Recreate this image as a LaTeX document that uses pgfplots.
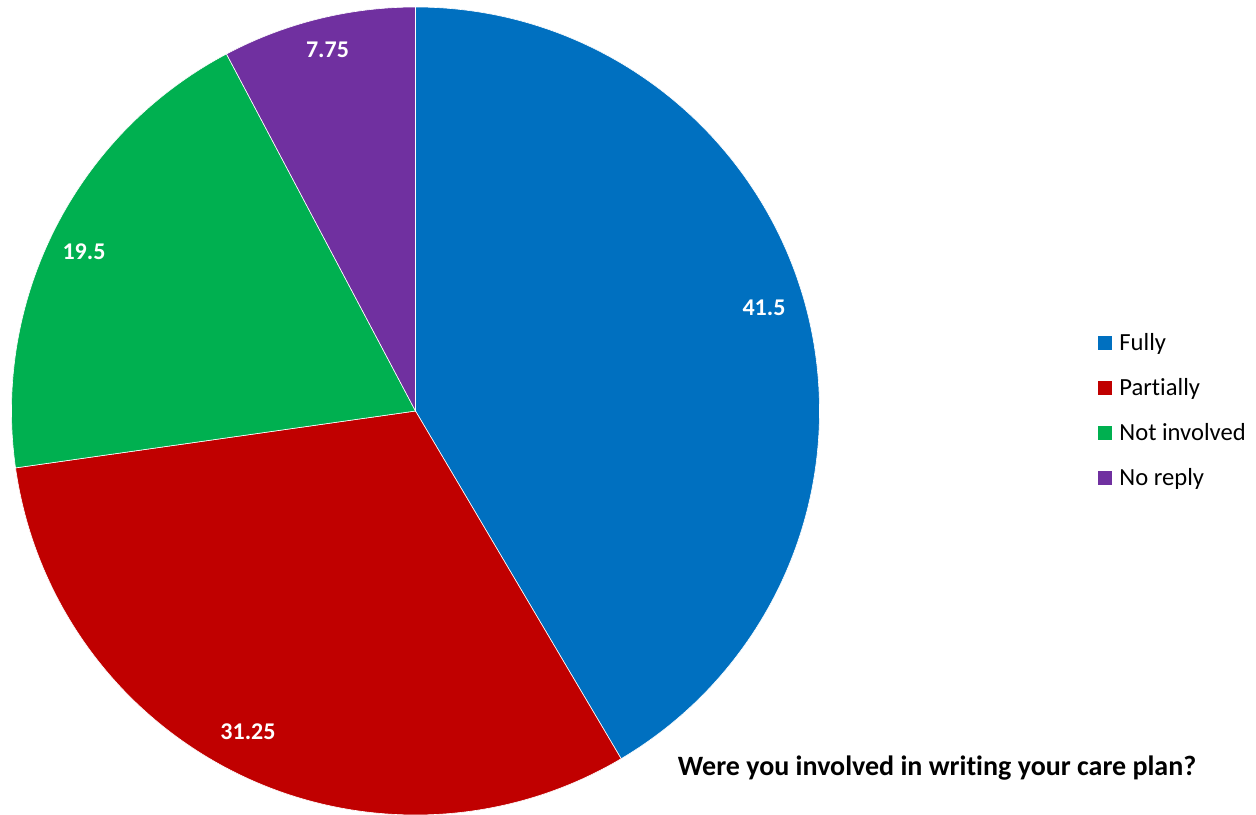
\documentclass[border=0pt]{standalone}
\usepackage{pgfplots}
\pgfplotsset{compat=1.18}
\usepackage{fontspec}
\setmainfont{Carlito}[Ligatures=CommonOff]
\definecolor{cFully}{HTML}{0070C0}
\definecolor{cPart}{HTML}{C00000}
\definecolor{cNot}{HTML}{00B050}
\definecolor{cNo}{HTML}{7030A0}
\begin{document}
\begin{tikzpicture}
\begin{axis}[width=628pt,height=407pt,scale only axis,
  xmin=0,xmax=1256,ymin=0,ymax=814,y dir=reverse,hide axis,clip=false]
\pgfplotsextra{
  \gdef\cum{0}
  \foreach \v/\c/\lx/\ly in {41.5/cFully/764/315, 31.25/cPart/248/739, 19.5/cNot/84/259, 7.75/cNo/327.5/57}{
    \pgfmathsetmacro\a{90-3.6*\cum}
    \pgfmathsetmacro\b{90-3.6*(\cum+\v)}
    \fill[\c, draw=white, line width=0.3pt] (axis cs:415.5,411) -- ++(\a:202pt) arc[start angle=\a, end angle=\b, radius=202pt] -- cycle;
    \node[text=white, anchor=base, inner sep=0pt, font=\bfseries\fontsize{12}{14}\selectfont] at (axis cs:\lx,\ly) {\v};
    \pgfmathsetmacro\n{\cum+\v}\xdef\cum{\n}
  }
  \foreach \c/\t [count=\i from 0] in {cFully/Fully, cPart/Partially, cNot/Not involved, cNo/No reply}{
    \pgfmathsetmacro\yb{350+45.2*\i}
    \fill[\c] (axis cs:1097.5,\yb-14.5) rectangle (axis cs:1111.5,\yb-0.5);
    \node[anchor=base west, inner sep=0pt, font=\fontsize{12.3}{14}\selectfont] at (axis cs:1119,\yb) {\t};
  }
  \node[anchor=base, inner sep=0pt, font=\bfseries\fontsize{14}{16}\selectfont] at (axis cs:937,775) {Were you involved in writing your care plan?};
}
\end{axis}
\pgfresetboundingbox
\path (0,0) rectangle (628pt,407pt);
\end{tikzpicture}
\end{document}
